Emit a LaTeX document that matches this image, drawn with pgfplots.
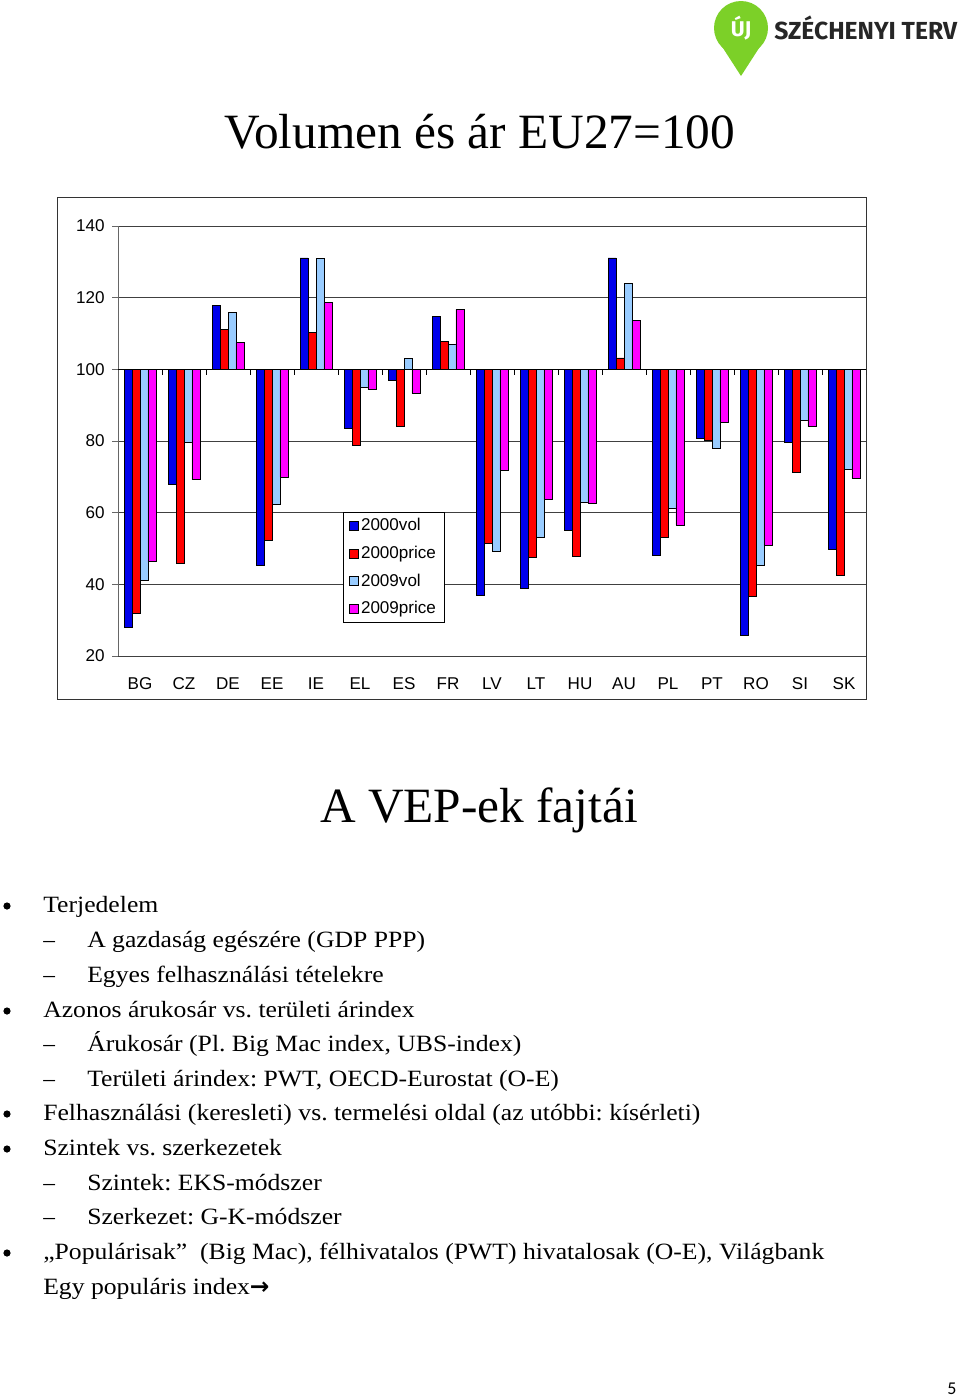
\documentclass[border=0pt]{standalone}
\usepackage{pgfplots}
\pgfplotsset{compat=1.18}
\usepackage{graphicx}
\usepackage{fontspec}
\setmainfont{Liberation Serif}
\newfontfamily\arial{Liberation Sans}
\newfontfamily\carlito{Carlito}
\newfontfamily\fira{Fira Sans}
\newfontfamily\dejavu{DejaVu Sans}
\definecolor{cvol}{RGB}{0,0,235}
\definecolor{cprice}{RGB}{255,0,0}
\definecolor{cvolb}{RGB}{153,204,255}
\definecolor{cpriceb}{RGB}{255,0,255}
\definecolor{szgreen}{RGB}{124,208,40}
\newcommand\bodyfont{\fontsize{17.5}{20}\selectfont}
\newcommand\tx[1]{\scalebox{1.1}[1]{#1}}
\frenchspacing
\begin{document}
\begin{tikzpicture}
\begin{scope}[x=0.75pt,y=-0.75pt]
\path[use as bounding box] (0,0) rectangle (960,1399);
% logo
\fill[szgreen] (741,28) circle (27);
\fill[szgreen] (721,45) -- (741,76) -- (761,45) -- cycle;
\node[white, font=\fira\bfseries\fontsize{16}{16}\selectfont] at (741,28) {ÚJ};
\node[anchor=base west, inner sep=0, text=black!85, font=\fira\bfseries\fontsize{18.5}{19}\selectfont] at (774,39) {SZÉCHENYI TERV};
% titles
\node[anchor=base, inner sep=0, font=\fontsize{37}{40}\selectfont] at (480,148) {Volumen és ár EU27=100};
\node[anchor=base, inner sep=0, font=\fontsize{37}{40}\selectfont] at (479,822) {A VEP-ek fajtái};
% chart frame
\draw[black!80, line width=0.6pt] (57,197) rectangle (866,699);
% bullets
\foreach \yy in {912,1017,1120,1155,1259} \fill (7,\yy-6) circle (3.6);
% bullet text
\begin{scope}[every node/.style={anchor=base west, inner sep=0, font=\bodyfont}]
\node at (43,912) {\tx{Terjedelem}};
\node at (43,947) {–}; \node at (87,947) {\tx{A gazdaság egészére (GDP PPP)}};
\node at (43,982) {–}; \node at (87,982) {\tx{Egyes felhasználási tételekre}};
\node at (43,1017) {\tx{Azonos árukosár vs. területi árindex}};
\node at (43,1051) {–}; \node at (87,1051) {\tx{Árukosár (Pl. Big Mac index, UBS-index)}};
\node at (43,1086) {–}; \node at (87,1086) {\tx{Területi árindex: PWT, OECD-Eurostat (O-E)}};
\node at (43,1120) {\tx{Felhasználási (keresleti) vs. termelési oldal (az utóbbi: kísérleti)}};
\node at (43,1155) {\tx{Szintek vs. szerkezetek}};
\node at (43,1190) {–}; \node at (87,1190) {\tx{Szintek: EKS-módszer}};
\node at (43,1224) {–}; \node at (87,1224) {\tx{Szerkezet: G-K-módszer}};
\node at (43,1259) {\tx{„Populárisak”\ \ (Big Mac), félhivatalos (PWT) hivatalosak (O-E), Világbank}};
\node at (43,1294) {\tx{Egy populáris index}{\dejavu\bfseries →}};
\end{scope}
\node[anchor=base west, inner sep=0, font=\carlito\fontsize{13.5}{14}\selectfont] at (947,1394) {5};
\end{scope}
\begin{axis}[
  at={(88.5pt,-492pt)}, anchor=south west,
  scale only axis, width=561pt, height=322.5pt,
  ybar=0pt, bar width=0.18,
  xmin=-0.5, xmax=16.5, ymin=-80, ymax=40,
  enlargelimits=false,
  y filter/.expression={y-100},
  axis lines*=left,
  x axis line style={draw=none},
  y axis line style={black!60, line width=0.6pt},
  xtick={0,...,16},
  xticklabels={BG,CZ,DE,EE,IE,EL,ES,FR,LV,LT,HU,AU,PL,PT,RO,SI,SK},
  xtick style={draw=none},
  ytick={-80,-60,...,40},
  yticklabels={20,40,60,80,100,120,140},
  ytick style={black!60, line width=0.6pt},
  tick align=outside, major tick length=4.5pt,
  ymajorgrids, major grid style={black!75, line width=0.6pt},
  ticklabel style={font=\arial\fontsize{12.8}{14}\selectfont},
  xticklabel style={yshift=-8pt},
  yticklabel style={xshift=-2pt},
  legend style={at={(0.301,0.077)}, anchor=south west, draw=black, fill=white,
    font=\arial\fontsize{12.8}{14}\selectfont, inner xsep=4pt, inner ysep=3pt,
    row sep=6pt, cells={anchor=west}},
  legend image code/.code={\draw[#1,draw=black,line width=0.4pt] (0pt,-3.4pt) rectangle (6.8pt,3.4pt);},
  every axis plot/.append style={draw=black, line width=0.5pt},
]
\addplot[fill=cvol] coordinates {(0,28) (1,68) (2,117.8) (3,45.2) (4,131.1) (5,83.6) (6,96.9) (7,114.8) (8,37) (9,38.9) (10,55.2) (11,131.1) (12,48.2) (13,80.7) (14,25.9) (15,79.6) (16,49.9)};
\addplot[fill=cprice] coordinates {(0,31.8) (1,45.9) (2,111.1) (3,52.2) (4,110.4) (5,78.9) (6,84) (7,107.8) (8,51.5) (9,47.4) (10,47.8) (11,103.2) (12,53.1) (13,80.3) (14,36.7) (15,71.2) (16,42.6)};
\addplot[fill=cvolb] coordinates {(0,41) (1,79.6) (2,116) (3,62.2) (4,131) (5,94.9) (6,103) (7,107) (8,49.3) (9,53.1) (10,62.9) (11,124) (12,61.3) (13,77.9) (14,45.2) (15,85.9) (16,72.1)};
\addplot[fill=cpriceb] coordinates {(0,46.3) (1,69.2) (2,107.5) (3,70) (4,118.6) (5,94.4) (6,93.3) (7,116.7) (8,71.9) (9,63.7) (10,62.6) (11,113.7) (12,56.6) (13,85.1) (14,50.9) (15,84) (16,69.6)};
\legend{2000vol,2000price,2009vol,2009price}
\draw[black, line width=0.6pt] (axis cs:-0.5,0) -- (axis cs:16.5,0);
\pgfplotsinvokeforeach{0.5,1.5,...,16.5}{\draw[black, line width=0.6pt] (axis cs:#1,0) -- ([yshift=-4pt]axis cs:#1,0);}
\end{axis}
\end{tikzpicture}
\end{document}
